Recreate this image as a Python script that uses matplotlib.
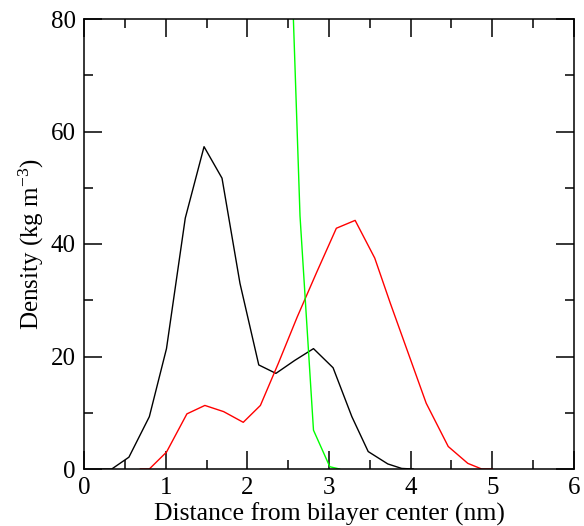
import matplotlib
matplotlib.use("Agg")
import matplotlib.pyplot as plt
from matplotlib.ticker import MultipleLocator

# Data
black_x = [0.23, 0.34, 0.55, 0.80, 1.01, 1.24, 1.47, 1.69, 1.91, 2.14, 2.35, 2.58, 2.81, 3.05, 3.28, 3.48, 3.72, 3.89, 4.03]
black_y = [0.0, 0.0, 2.1, 9.3, 21.4, 44.6, 57.3, 51.7, 33.0, 18.5, 17.0, 19.3, 21.4, 18.0, 9.3, 3.1, 0.9, 0.1, 0.0]

red_x = [0.69, 0.80, 1.01, 1.26, 1.48, 1.71, 1.95, 2.16, 2.38, 2.61, 2.85, 3.09, 3.32, 3.56, 3.75, 3.97, 4.19, 4.46, 4.70, 4.87, 5.00]
red_y = [0.0, 0.0, 3.0, 9.8, 11.3, 10.2, 8.3, 11.3, 18.8, 27.0, 35.0, 42.8, 44.2, 37.5, 29.5, 20.6, 11.7, 4.0, 1.0, 0.0, 0.0]

green_x = [2.52, 2.645, 2.81, 3.01, 3.13]
green_y = [99.0, 45.0, 6.9, 0.4, 0.0]

x_ticks = [0, 1, 2, 3, 4, 5, 6]
y_ticks = [0, 20, 40, 60, 80]

plt.rcParams['font.family'] = ['Liberation Serif', 'DejaVu Serif']
plt.rcParams['mathtext.fontset'] = 'custom'
plt.rcParams['mathtext.rm'] = 'Liberation Serif'
plt.rcParams['mathtext.it'] = 'Liberation Serif:italic'

fig = plt.figure(figsize=(5.84, 5.26), dpi=100)
ax = fig.add_axes([84/584, 1-469/526, 490/584, 450/526])

ax.plot(black_x, black_y, color='black', lw=1.0)
ax.plot(red_x, red_y, color='#ff0000', lw=1.0)
ax.plot(green_x, green_y, color='#00ff00', lw=1.0)

ax.set_xlim(0, 6)
ax.set_ylim(0, 80)
ax.set_xticks(x_ticks)
ax.set_yticks(y_ticks)
ax.xaxis.set_minor_locator(MultipleLocator(0.5))
ax.yaxis.set_minor_locator(MultipleLocator(10))
ax.tick_params(which='both', direction='in', top=True, right=True, width=1.1, labelsize=18)
ax.tick_params(which='major', length=13, pad=6)
ax.tick_params(which='minor', length=6.5)
for s in ax.spines.values():
    s.set_linewidth(1.1)

ax.set_xlabel('Distance from bilayer center (nm)', fontsize=18.5, labelpad=2)
ax.set_ylabel(r'Density (kg m$^{-3}$)', fontsize=18, labelpad=3)

fig.savefig('out.png', dpi=100)
